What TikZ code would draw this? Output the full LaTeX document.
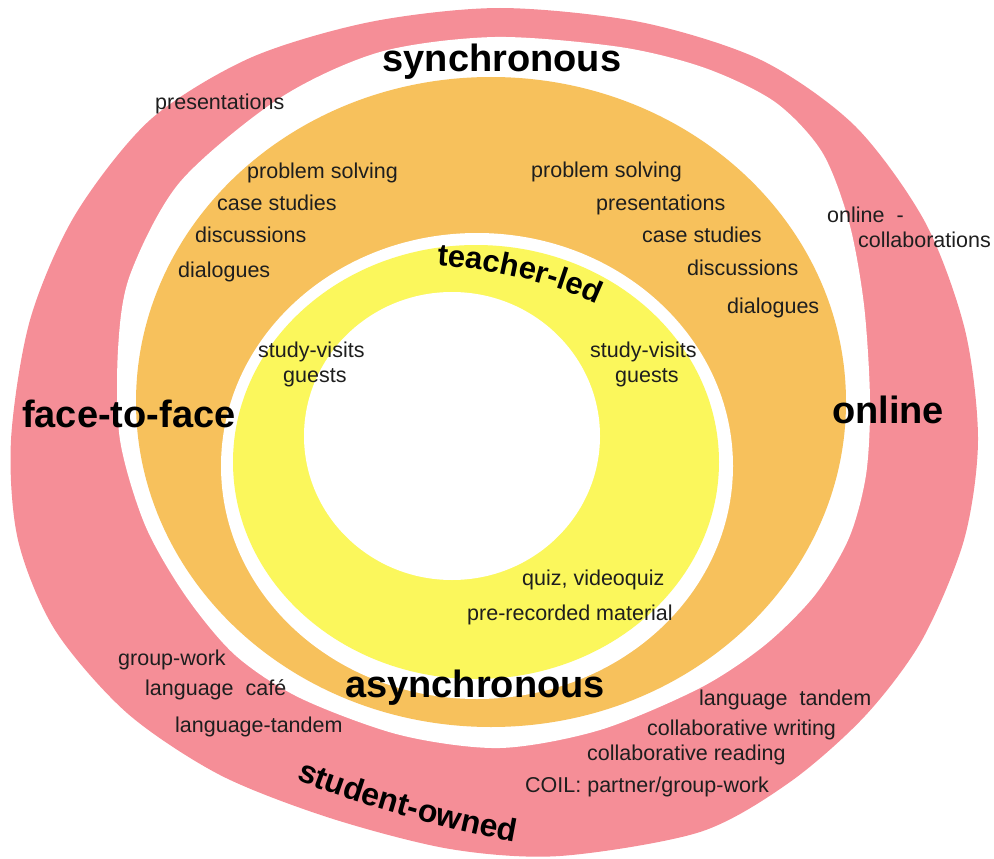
\documentclass[tikz,border=0pt]{standalone}
\usepackage{fontspec}
\setmainfont{Liberation Sans}
\usetikzlibrary{decorations.text}
\definecolor{ringpink}{HTML}{F58E97}
\definecolor{ringorange}{HTML}{F7C15C}
\definecolor{ringyellow}{HTML}{FBF75C}
\definecolor{inktext}{HTML}{1E1E1E}
\newcommand{\itemfont}{\fontsize{21.5}{25}\selectfont}
\newcommand{\modefont}{\fontsize{38}{44}\selectfont\bfseries}
\newcommand{\leadfont}{\fontsize{31}{35}\selectfont\bfseries}
\newcommand{\ownfont}{\fontsize{32}{36}\selectfont\bfseries}
\tikzset{
  item/.style={anchor=base west, inner sep=0pt, text=inktext, font=\itemfont},
  mode/.style={anchor=base, inner sep=0pt, text=black, font=\modefont},
}
\begin{document}
\begin{tikzpicture}[x=1pt,y=-1pt]
\useasboundingbox (0,0) rectangle (994,859);
% outer band: student-owned
\fill[ringpink] plot[smooth cycle] coordinates {
  (500,8) (640,22) (761,60) (855,126) (925,222) (965,330) (978,440)
  (964,540) (922,640) (865,716) (790,782) (700,832) (560,856) (450,849)
  (330,818) (220,775) (127,713) (55,630) (18,540) (11,440) (30,320)
  (75,215) (150,120) (250,58) (370,22)};
\fill[white] plot[smooth cycle] coordinates {
  (495,37) (620,47) (705,68) (775,102) (822,152) (849,222) (864,305)
  (870,400) (866,475) (849,538) (815,595) (765,645) (700,688) (600,730)
  (500,748) (400,735) (300,698) (235,655) (185,595) (145,525) (120,440)
  (118,350) (130,275) (180,182) (280,98) (380,52)};
% middle band: synchronous / asynchronous
\fill[ringorange] (491,402) ellipse [x radius=355, y radius=325];
\fill[white] (477,466) ellipse [x radius=256, y radius=233];
% inner band: teacher-led
\fill[ringyellow] (476,462) ellipse [x radius=243, y radius=217];
\fill[white] (452,436) ellipse [x radius=148, y radius=144];

% main labels
\node[mode] (sync) at (502,72) {synchronous};
\node[mode] (async) at (475,697) {asynchronous};
\node[mode, anchor=base west] (f2f) at (22,427) {face-to-face};
\node[mode, anchor=base west] (online) at (832,423) {online};

% curved band labels
\path[decorate, decoration={text along path, text align=center,
  text={|\leadfont|teacher-led}}]
  (426,265) .. controls (490,267) and (560,284) .. (607,309);
\path[decorate, decoration={text along path, text align=center,
  text={|\ownfont|student-owned}}]
  (284,774) .. controls (328,795) and (440,830) .. (528,844);

% face-to-face, synchronous
\node[item] (pres1) at (155,110) {presentations};
\node[item] (prob1) at (247,178) {problem solving};
\node[item] (case1) at (217,210) {case studies};
\node[item] (disc1) at (195,242) {discussions};
\node[item] (dial1) at (178,277) {dialogues};

% online, synchronous
\node[item] (prob2) at (531,177) {problem solving};
\node[item] (pres2) at (596,210) {presentations};
\node[item] (case2) at (642,242) {case studies};
\node[item] (disc2) at (687,275) {discussions};
\node[item] (dial2) at (727,313) {dialogues};
\node[item] (colon1) at (827,222) {online\ \ -};
\node[item] (colon2) at (858,247) {collaborations};

% teacher-led
\node[item] (visit1) at (258,357) {study-visits};
\node[item] (guest1) at (283,382) {guests};
\node[item] (visit2) at (590,357) {study-visits};
\node[item] (guest2) at (615,382) {guests};
\node[item] (quiz) at (522,585) {quiz, videoquiz};
\node[item] (prerec) at (467,620) {pre-recorded material};

% student-owned, face-to-face
\node[item] (group1) at (118,665) {group-work};
\node[item] (cafe) at (145,695) {language\ \ café};
\node[item] (tand1) at (175,732) {language-tandem};

% student-owned, online
\node[item] (tand2) at (699,705) {language\ \ tandem};
\node[item] (cwrite) at (647,735) {collaborative writing};
\node[item] (cread) at (587,760) {collaborative reading};
\node[item] (coil) at (525,792) {COIL: partner/group-work};
\end{tikzpicture}
\end{document}
